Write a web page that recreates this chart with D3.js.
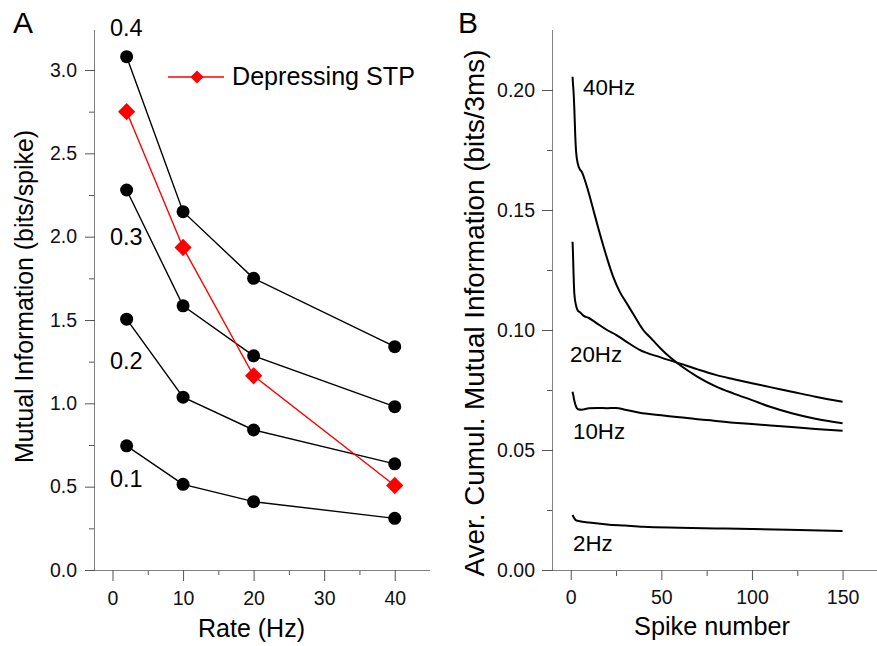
<!DOCTYPE html>
<html lang="en">
<head>
  <meta charset="UTF-8">
  <title>Mutual information vs rate and spike number</title>
  <script src="https://d3js.org/d3.v7.min.js"></script>
  <style>
    body { margin: 0; background: #fff; }
    svg { display: block; font-family: "Liberation Sans", Arial, sans-serif; }
    .axis path, .axis line { stroke: #808080; }
    .axis .tick line { stroke: #555; }
    .axis text { font-size: 19.5px; fill: #111; font-family: "Liberation Sans", Arial, sans-serif; }
  </style>
</head>
<body>
<svg width="877" height="646"></svg>
<script>
  // ---- Panel A data ----
  const rates = [2, 10, 20, 40];
  const seriesA = [
    { label: "0.4", values: [3.08, 2.15, 1.75, 1.34] },
    { label: "0.3", values: [2.28, 1.585, 1.285, 0.98] },
    { label: "0.2", values: [1.505, 1.037, 0.84, 0.637] },
    { label: "0.1", values: [0.745, 0.514, 0.41, 0.31] }
  ];
  const depressing = [2.75, 1.935, 1.165, 0.507];

  // ---- Panel B data ----
  const spikes40 = [1, 1.2, 1.5, 2, 2.5, 3, 4, 5, 6, 8, 10, 12.5, 15, 18, 20, 23.5, 27, 31, 35, 40, 45, 50, 55, 60, 70, 80, 90, 100, 110, 122, 135, 150];
  const mi40 = [0.2055, 0.203, 0.200, 0.192, 0.181, 0.174, 0.169, 0.167, 0.166, 0.162, 0.157, 0.150, 0.143, 0.135, 0.130, 0.122, 0.116, 0.111, 0.106, 0.100, 0.096, 0.092, 0.0885, 0.0855, 0.0805, 0.0765, 0.0735, 0.0708, 0.0680, 0.0653, 0.0630, 0.0611];
  const spikes20 = [1, 1.2, 1.5, 2, 3, 4, 5, 7, 10, 14, 20, 25, 30, 38, 50, 60, 70, 80, 90, 100, 110, 122, 135, 150];
  const mi20 = [0.1368, 0.133, 0.125, 0.115, 0.110, 0.108, 0.1075, 0.106, 0.105, 0.103, 0.100, 0.098, 0.0955, 0.0917, 0.0885, 0.0861, 0.0836, 0.0813, 0.0795, 0.0778, 0.0762, 0.0743, 0.0722, 0.0701];
  const spikes10 = [1, 1.5, 2, 3, 4, 6, 10, 15, 20, 25, 30, 38, 50, 60, 75, 90, 100, 120, 135, 150];
  const mi10 = [0.0743, 0.0725, 0.0705, 0.068, 0.067, 0.0668, 0.0674, 0.0675, 0.0674, 0.0675, 0.0668, 0.0655, 0.0645, 0.0636, 0.0625, 0.0614, 0.0608, 0.0597, 0.0588, 0.058];
  const spikes2 = [1, 2, 3, 5, 10, 20, 30, 40, 60, 80, 100, 120, 150];
  const mi2 = [0.0229, 0.0215, 0.0207, 0.0203, 0.0198, 0.0190, 0.0185, 0.0180, 0.0176, 0.0173, 0.0171, 0.0168, 0.01625];

  const curvesB = [
    { label: "40Hz", x: spikes40, y: mi40, lx: 583, ly: 95 },
    { label: "20Hz", x: spikes20, y: mi20, lx: 570, ly: 362 },
    { label: "10Hz", x: spikes10, y: mi10, lx: 573, ly: 439 },
    { label: "2Hz", x: spikes2, y: mi2, lx: 573, ly: 551 }
  ];

  const svg = d3.select("svg");

  // scale a text's font so its length matches the width seen in the figure
  function fit(sel, target) {
    const len = sel.node().getComputedTextLength();
    const fs = parseFloat(sel.attr("font-size"));
    sel.attr("font-size", (fs * target / len).toFixed(2));
    return sel;
  }

  // ================= Panel A =================
  const xA = d3.scaleLinear().domain([-3.9, 45]).range([85, 430]);
  const yA = d3.scaleLinear().domain([0, 3.0]).range([570, 70]);

  const gA = svg.append("g");

  gA.append("g").attr("class", "axis").attr("transform", "translate(0,570)")
    .call(d3.axisBottom(xA).tickValues([5, 15, 25, 35]).tickSize(5).tickFormat(""))
    .select(".domain").remove();
  gA.append("g").attr("class", "axis").attr("transform", "translate(0,570)")
    .call(d3.axisBottom(xA).tickValues([0, 10, 20, 30, 40]).tickSize(11).tickSizeOuter(0).tickPadding(10))
    .select(".domain").attr("d", "M85,0.5H430");

  gA.append("g").attr("class", "axis").attr("transform", "translate(95,0)")
    .call(d3.axisLeft(yA).tickValues([0.25, 0.75, 1.25, 1.75, 2.25, 2.75]).tickSize(6).tickFormat(""))
    .select(".domain").remove();
  gA.append("g").attr("class", "axis").attr("transform", "translate(95,0)")
    .call(d3.axisLeft(yA).tickValues([0, 0.5, 1, 1.5, 2, 2.5, 3]).tickSize(10).tickSizeOuter(0).tickPadding(8)
      .tickFormat(d3.format(".1f")))
    .select(".domain").attr("d", "M-0.5,30V570");

  const lineA = d3.line().x((d, i) => xA(rates[i])).y(d => yA(d));

  seriesA.forEach(s => {
    gA.append("path").attr("d", lineA(s.values))
      .attr("fill", "none").attr("stroke", "#000").attr("stroke-width", 1.4);
    gA.selectAll(null).data(s.values).join("circle")
      .attr("cx", (d, i) => xA(rates[i])).attr("cy", d => yA(d))
      .attr("r", 6.5).attr("fill", "#000");
  });

  gA.append("path").attr("d", lineA(depressing))
    .attr("fill", "none").attr("stroke", "#ff0000").attr("stroke-width", 1.4);
  const diamond = d3.symbol().type(d3.symbolDiamond2);
  gA.selectAll(null).data(depressing).join("path")
    .attr("d", diamond.size(190)())
    .attr("transform", (d, i) => `translate(${xA(rates[i])},${yA(d)})`)
    .attr("fill", "#ff0000");

  // series labels
  const labelPosA = [[110, 36], [110, 245], [110, 369], [110, 487]];
  seriesA.forEach((s, i) => {
    gA.append("text").attr("x", labelPosA[i][0]).attr("y", labelPosA[i][1])
      .attr("font-size", 23.5).attr("fill", "#000").text(s.label);
  });

  // legend
  gA.append("line").attr("x1", 168).attr("x2", 224).attr("y1", 77).attr("y2", 77)
    .attr("stroke", "#ff0000").attr("stroke-width", 1.4);
  gA.append("path").attr("d", diamond.size(110)()).attr("transform", "translate(197,77)").attr("fill", "#ff0000");
  fit(gA.append("text").attr("x", 232).attr("y", 85).attr("font-size", 22).attr("fill", "#000").text("Depressing STP"), 183);

  // titles
  fit(gA.append("text").attr("x", 251.5).attr("y", 637).attr("text-anchor", "middle")
    .attr("font-size", 24).attr("fill", "#000").text("Rate (Hz)"), 107);
  fit(gA.append("text").attr("transform", "translate(25,296.5) rotate(-90)").attr("text-anchor", "middle")
    .attr("dy", "0.33em").attr("font-size", 24).attr("fill", "#000").text("Mutual Information (bits/spike)"), 333);
  gA.append("text").attr("x", 13).attr("y", 33).attr("font-size", 30).attr("fill", "#000").text("A");

  // ================= Panel B =================
  const xB = d3.scaleLinear().domain([-15.3, 169]).range([543, 877]);
  const yB = d3.scaleLinear().domain([0, 0.20]).range([570, 90]);

  const gB = svg.append("g");

  gB.append("g").attr("class", "axis").attr("transform", "translate(0,570)")
    .call(d3.axisBottom(xB).tickValues([25, 75, 125]).tickSize(6).tickFormat(""))
    .select(".domain").remove();
  gB.append("g").attr("class", "axis").attr("transform", "translate(0,570)")
    .call(d3.axisBottom(xB).tickValues([0, 50, 100, 150]).tickSize(10).tickSizeOuter(0).tickPadding(10))
    .select(".domain").attr("d", "M543,0.5H877");

  gB.append("g").attr("class", "axis").attr("transform", "translate(553,0)")
    .call(d3.axisLeft(yB).tickValues([0.025, 0.075, 0.125, 0.175]).tickSize(6).tickFormat(""))
    .select(".domain").remove();
  gB.append("g").attr("class", "axis").attr("transform", "translate(553,0)")
    .call(d3.axisLeft(yB).tickValues([0, 0.05, 0.10, 0.15, 0.20]).tickSize(11).tickSizeOuter(0).tickPadding(7)
      .tickFormat(d3.format(".2f")))
    .select(".domain").attr("d", "M-0.5,30V570");

  const lineB = d3.line().curve(d3.curveMonotoneX);
  curvesB.forEach(c => {
    const pts = c.x.map((v, i) => [xB(v), yB(c.y[i])]);
    gB.append("path").attr("d", lineB(pts))
      .attr("fill", "none").attr("stroke", "#000").attr("stroke-width", 2);
    gB.append("text").attr("x", c.lx).attr("y", c.ly).attr("font-size", 22.3).attr("fill", "#000").text(c.label);
  });

  fit(gB.append("text").attr("x", 712).attr("y", 635).attr("text-anchor", "middle")
    .attr("font-size", 24).attr("fill", "#000").text("Spike number"), 156);
  fit(gB.append("text").attr("transform", "translate(475,313) rotate(-90)").attr("text-anchor", "middle")
    .attr("dy", "0.33em").attr("font-size", 24).attr("fill", "#000").text("Aver. Cumul. Mutual Information (bits/3ms)"), 527);
  gB.append("text").attr("x", 458).attr("y", 33).attr("font-size", 30).attr("fill", "#000").text("B");
</script>
</body>
</html>
